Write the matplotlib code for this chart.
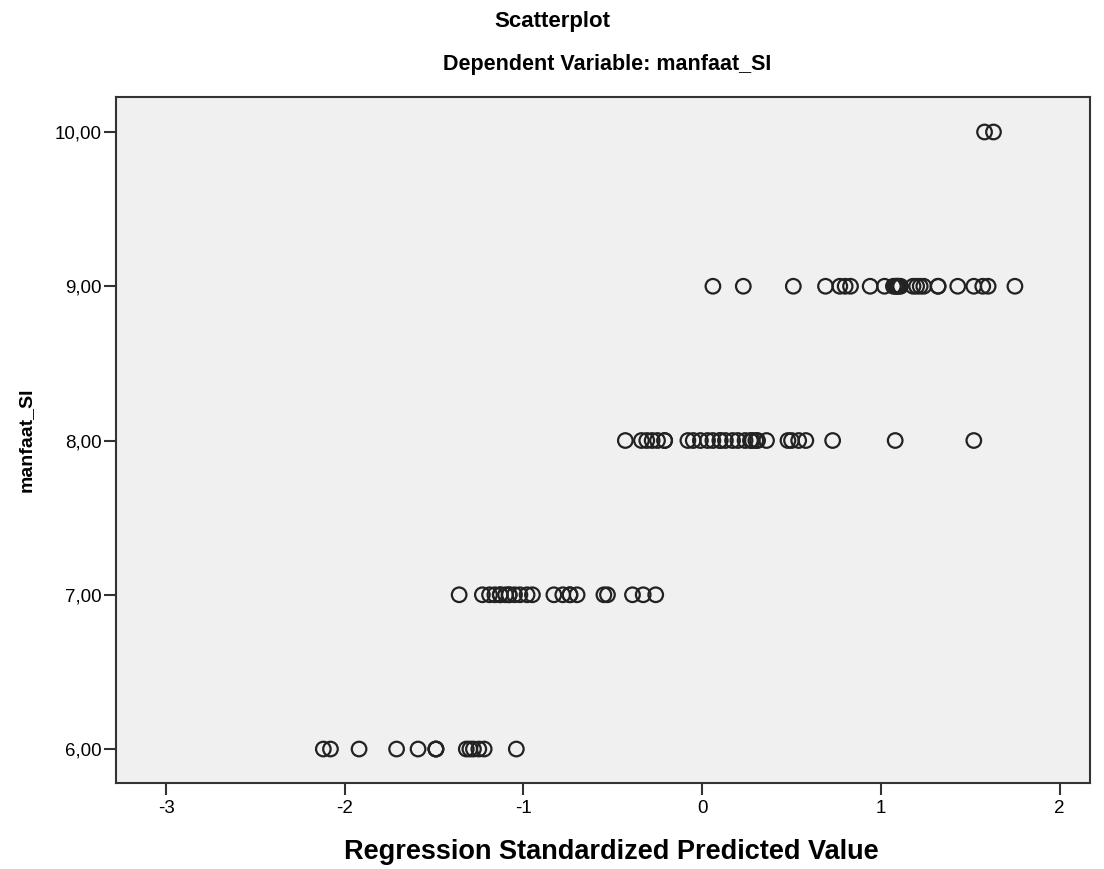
import matplotlib.pyplot as plt

plt.rcParams["font.family"] = ["Liberation Sans", "DejaVu Sans"]
plt.rcParams["axes.unicode_minus"] = False

# standardized predicted values, one list per observed value of manfaat_SI
pred_6 = [-2.12, -2.08, -1.92, -1.71, -1.59, -1.49, -1.49, -1.49,
          -1.32, -1.30, -1.28, -1.25, -1.22, -1.04]
pred_7 = [-1.36, -1.23, -1.19, -1.16, -1.13, -1.13, -1.10, -1.08, -1.08,
          -1.05, -1.02, -0.98, -0.95, -0.83, -0.78, -0.74, -0.74, -0.70,
          -0.55, -0.53, -0.39, -0.33, -0.26]
pred_8 = [-0.43, -0.34, -0.31, -0.28, -0.25, -0.21, -0.21, -0.08, -0.05,
          -0.01, 0.03, 0.06, 0.10, 0.10, 0.13, 0.17, 0.20, 0.24, 0.27,
          0.28, 0.30, 0.31, 0.36, 0.48, 0.50, 0.54, 0.58, 0.73, 1.08, 1.52]
pred_9 = [0.06, 0.23, 0.51, 0.69, 0.77, 0.80, 0.83, 0.94, 1.02, 1.07,
          1.08, 1.09, 1.09, 1.10, 1.11, 1.18, 1.20, 1.22, 1.24, 1.32,
          1.32, 1.43, 1.52, 1.57, 1.60, 1.75]
pred_10 = [1.58, 1.63]

observed = [6, 7, 8, 9, 10]
rows = [pred_6, pred_7, pred_8, pred_9, pred_10]

xs = []
ys = []
for val, row in zip(observed, rows):
    xs += row
    ys += [val] * len(row)

fig = plt.figure(figsize=(11.04, 8.69), dpi=100)
ax = fig.add_axes([0.1051, 0.0990, 0.8822, 0.7894])
ax.set_facecolor("#f0f0f0")

ax.scatter(xs, ys, s=110, facecolors="none", edgecolors="#222222", linewidths=1.6)

ax.set_xlim(-3.28, 2.17)
ax.set_ylim(5.78, 10.227)
ax.set_xticks([-3, -2, -1, 0, 1, 2])
ax.set_yticks(observed)
ax.set_yticklabels([f"{v},00" for v in observed])

for side in ["left", "bottom", "top", "right"]:
    ax.spines[side].set_color("#333333")
    ax.spines[side].set_linewidth(1.5)
ax.tick_params(length=8.6, width=1.5, color="#333333", labelsize=13.5, pad=2)
ax.tick_params(axis="x", pad=4)

ax.set_xlabel("Regression Standardized Predicted Value", fontsize=19.5, fontweight="bold")
ax.xaxis.label.set_va("center")
ax.xaxis.set_label_coords(0.509, -0.1006)
ax.set_ylabel("manfaat_SI", fontsize=14, fontweight="bold", labelpad=14)

fig.text(0.5, 0.975, "Scatterplot", ha="center", va="center", fontsize=16, fontweight="bold")
fig.text(0.55, 0.926, "Dependent Variable: manfaat_SI", ha="center", va="center", fontsize=15.5, fontweight="bold")

fig.savefig("out.png", dpi=100)
